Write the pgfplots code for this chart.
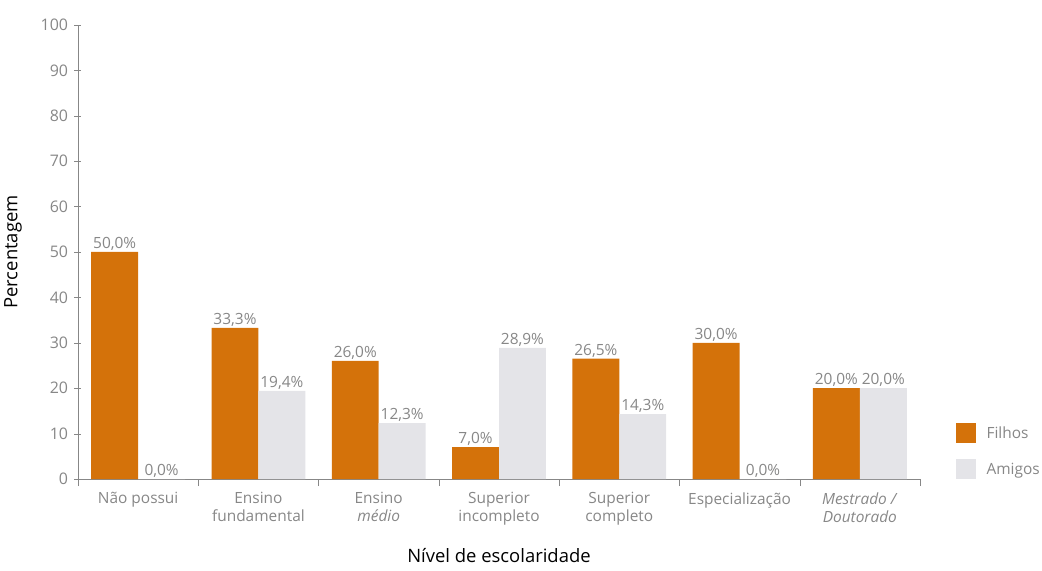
\documentclass[border=0pt]{standalone}
\usepackage{pgfplots}
\pgfplotsset{compat=1.18}
\usepackage{fontspec}
\setmainfont{Open Sans}
\definecolor{filhos}{RGB}{212,114,10}
\definecolor{amigos}{RGB}{228,228,232}
\definecolor{txtgray}{RGB}{135,135,135}
\begin{document}
\begin{tikzpicture}
\begin{axis}[
  scale only axis,
  width=842bp, height=454bp,
  xmin=-0.5, xmax=6.5,
  ymin=0, ymax=100,
  ytick={0,10,...,100},
  xtick={0,...,6},
  xticklabels={{N\~ao possui},{Ensino\\fundamental},{Ensino\\\textit{m\'edio}},{Superior\\incompleto},{Superior\\completo},{Especializa\c{c}\~ao},{\textit{Mestrado /}\\\textit{Doutorado}}},
  xticklabel style={align=center, font=\fontsize{15.5}{18}\selectfont, text=txtgray, yshift=-3bp},
  yticklabel style={font=\fontsize{16}{18}\selectfont, text=txtgray, xshift=-3bp},
  major x tick style={draw=none},
  minor xtick={-0.5,0.5,...,6.5},
  minor x tick style={draw=txtgray},
  minor tick length=7bp,
  major tick length=7bp,
  tick align=outside,
  axis lines=left,
  axis line style={-, draw=txtgray},
  y tick style={draw=txtgray},
  /pgf/number format/assume math mode=true,
  ylabel={Percentagem},
  xlabel={N\'ivel de escolaridade},
  label style={font=\fontsize{18.5}{21}\selectfont},
  ylabel style={yshift=12bp},
  xlabel style={yshift=-16bp},
  ybar=0pt,
  bar width=0.39,
  nodes near coords={\pgfmathprintnumber[fixed,fixed zerofill,precision=1,use comma]{\pgfplotspointmeta}\%},
  nodes near coords style={font=\fontsize{15.5}{18}\selectfont, text=txtgray, inner sep=1.5bp},
  legend style={draw=none, fill=none, at={(1.042,0.0)}, anchor=south west, font=\fontsize{15.5}{18}\selectfont, text=txtgray, row sep=16bp, inner sep=0pt,
    /tikz/every odd column/.append style={column sep=9bp}},
  legend cell align=left,
  legend image code/.code={\fill[#1] (0bp,-9bp) rectangle (20bp,11bp);},
]
\addplot[fill=filhos, draw=none] coordinates {(0,50.0) (1,33.3) (2,26.0) (3,7.0) (4,26.5) (5,30.0) (6,20.0)};
\addplot[fill=amigos, draw=none] coordinates {(0,0.0) (1,19.4) (2,12.3) (3,28.9) (4,14.3) (5,0.0) (6,20.0)};
\legend{Filhos, Amigos}
\end{axis}
\pgfresetboundingbox
\useasboundingbox ([xshift=-78bp,yshift=-92bp]current axis.south west) rectangle ([xshift=122bp,yshift=25bp]current axis.north east);
\end{tikzpicture}
\end{document}
